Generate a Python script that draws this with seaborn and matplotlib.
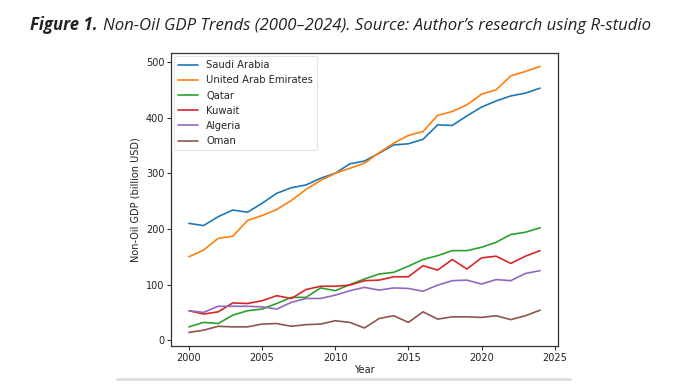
import matplotlib
matplotlib.use("Agg")
import matplotlib.pyplot as plt
import seaborn as sns
import pandas as pd
from matplotlib.lines import Line2D

years = list(range(2000, 2025))
countries = ["Saudi Arabia", "United Arab Emirates", "Qatar", "Kuwait", "Algeria", "Oman"]

saudi = [210, 206, 222, 234, 230, 246, 264, 274, 279, 291, 300, 317,
         322, 336, 351, 353, 361, 387, 386, 403, 419, 430, 439, 444, 453]
uae = [150, 162, 183, 187, 215, 224, 235, 251, 271, 287, 300, 309,
       318, 337, 354, 368, 375, 404, 411, 423, 442, 450, 475, 483, 492]
qatar = [24, 32, 30, 45, 53, 56, 66, 77, 77, 94, 89, 100,
         110, 119, 122, 133, 145, 152, 161, 161, 167, 176, 190, 194, 202]
kuwait = [53, 47, 51, 67, 66, 71, 80, 75, 91, 97, 97, 99,
          107, 108, 114, 114, 134, 126, 145, 128, 148, 151, 138, 151, 161]
algeria = [53, 50, 61, 61, 61, 60, 56, 68, 75, 75, 81, 89,
           95, 90, 94, 93, 88, 99, 107, 108, 101, 109, 107, 120, 125]
oman = [14, 18, 25, 24, 24, 29, 30, 25, 28, 29, 35, 32,
        22, 39, 44, 32, 51, 38, 42, 42, 41, 44, 37, 44, 54]

caption_bold = "Figure 1."
caption_rest = "Non-Oil GDP Trends (2000\u20132024). Source: Author\u2019s research using R-studio"

series = [saudi, uae, qatar, kuwait, algeria, oman]
df = pd.DataFrame({
    "Year": years * len(countries),
    "GDP": sum(series, []),
    "Country": sum([[c] * len(years) for c in countries], []),
})

sns.set_style("ticks")
plt.rcParams["font.family"] = ["DejaVu Sans"]

fig = plt.figure(figsize=(6.8, 3.85), dpi=100)
ax = fig.add_axes([0.252, 0.102, 0.568, 0.760])

sns.lineplot(data=df, x="Year", y="GDP", hue="Country", hue_order=countries,
             palette="tab10", linewidth=1.2, ax=ax, legend=False)

ax.set_xticks([2000, 2005, 2010, 2015, 2020, 2025])
ax.set_yticks([0, 100, 200, 300, 400, 500])
ax.tick_params(labelsize=7, length=3, width=0.8, color="#333333", labelcolor="#222222", pad=2)
for s in ax.spines.values():
    s.set_linewidth(0.9)
    s.set_color("#333333")
    s.set_visible(True)
ax.set_xlabel("Year", fontsize=7, color="#222222", labelpad=2)
ax.set_ylabel("Non-Oil GDP (billion USD)", fontsize=7, color="#222222", labelpad=4)

pal = sns.color_palette("tab10", len(countries))
handles = [Line2D([0], [0], color=pal[i], lw=1.2) for i in range(len(countries))]
leg = ax.legend(handles, countries, loc="upper left", fontsize=7.2, frameon=True,
                handlelength=2.0, labelspacing=0.52, borderpad=0.4, handletextpad=0.8,
                borderaxespad=0.3, fancybox=True)
leg.get_frame().set_edgecolor("#dddddd")
leg.get_frame().set_linewidth(0.8)

# caption: fit its width to the reference span
fs = 11.2
yb = 1 - 30 / 385
t1 = fig.text(30 / 680, yb, caption_bold, fontsize=fs, fontweight="bold", fontstyle="italic",
              family=["Open Sans", "DejaVu Sans"], color="#222222", va="baseline", ha="left")
t2 = fig.text(0.5, yb, caption_rest, fontsize=fs, fontstyle="italic",
              family=["Open Sans", "DejaVu Sans"], color="#222222", va="baseline", ha="left")
fig.canvas.draw()
r = fig.canvas.get_renderer()
w1 = t1.get_window_extent(r).width
w2 = t2.get_window_extent(r).width
target = 648 - 30
scale = target / (w1 + 5 + w2)
fs2 = fs * scale
t1.set_fontsize(fs2)
t2.set_fontsize(fs2)
fig.canvas.draw()
bb = t1.get_window_extent(r)
t2.set_x((bb.x1 + 5 * scale) / fig.bbox.width)

# separator line at bottom
fig.add_artist(Line2D([117 / 680, 570 / 680], [1 - 379 / 385, 1 - 379 / 385],
                      transform=fig.transFigure, color="#dedede", lw=2))

fig.savefig("out.png", dpi=100)
